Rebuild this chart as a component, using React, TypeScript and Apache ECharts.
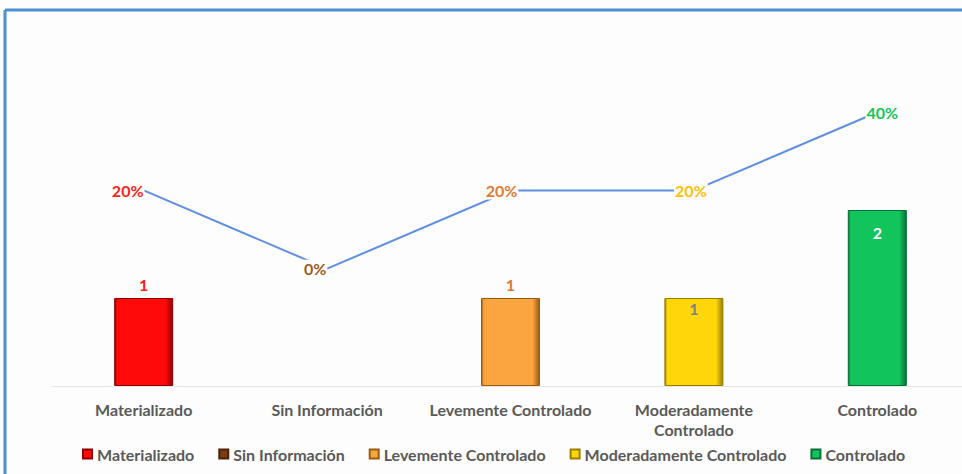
import React, { useEffect, useRef } from "react";
import * as echarts from "echarts";

const categories = ["Materializado", "Sin Información", "Levemente Controlado", "Moderadamente\nControlado", "Controlado"];
const legendNames = ["Materializado", "Sin Información", "Levemente Controlado", "Moderadamente Controlado", "Controlado"];
const counts = [1, 0, 1, 1, 2];
const percents = [20, 0, 20, 20, 40];
const barColors = ["#FF0A0A", "#7A3E12", "#FBA540", "#FFD60A", "#12C45C"];
const barEdgeColors = ["#8A0000", "#4A2308", "#9A5A10", "#9A7E00", "#06703A"];
const pctLabelColors = ["#FF2020", "#9C5A22", "#E07A2E", "#FFC000", "#12C45C"];
const barLabelColors = ["#FF2020", "#9C5A22", "#E07A2E", "#7F7F7F", "#FFFFFF"];
const barLabelPos = ["top", "top", "top", "insideTop", "insideTop"];
const barLabelDist = [6, 6, 6, 2, 14];
const pctLabelOffsetX = [-16, -12, -9, -3, 5];

const FONT = "Lato";

export default function App() {
  const ref = useRef<HTMLDivElement>(null);
  useEffect(() => {
    const chart = echarts.init(ref.current!, null, { renderer: "svg" });
    const barSeries = legendNames.map((name, i) => ({
      name,
      type: "bar",
      stack: "one",
      barWidth: 59,
      data: counts.map((v, j) => (j === i && v > 0 ? v : null)),
      itemStyle: {
        color: new echarts.graphic.LinearGradient(0, 0, 1, 0, [
          { offset: 0, color: barEdgeColors[i] },
          { offset: 0.04, color: barColors[i] },
          { offset: 0.88, color: barColors[i] },
          { offset: 1, color: barEdgeColors[i] },
        ]),
        borderColor: barEdgeColors[i],
        borderWidth: 1,
      },
      label: {
        show: true,
        position: barLabelPos[i],
        distance: barLabelDist[i],
        color: barLabelColors[i],
        fontFamily: FONT,
        fontWeight: "bold",
        fontSize: 16,
      },
    }));
    chart.setOption({
      animation: false,
      backgroundColor: "#fdfdfd",
      grid: { left: 52, width: 917, top: 34, height: 352 },
      legend: {
        data: legendNames.map((n) => ({ name: n, icon: "rect" })),
        bottom: 7,
        left: 77,
        itemWidth: 9,
        itemHeight: 9,
        itemGap: 24,
        textStyle: { color: "#595959", fontFamily: FONT, fontSize: 16, fontWeight: "bold" },
      },
      xAxis: {
        type: "category",
        data: categories,
        axisLine: { show: true, lineStyle: { color: "#e6e6e6", width: 1 } },
        axisTick: { show: false },
        axisLabel: {
          color: "#595959",
          fontFamily: FONT,
          fontSize: 16,
          fontWeight: "bold",
          margin: 13,
          lineHeight: 20,
          interval: 0,
        },
      },
      yAxis: [
        { type: "value", min: 0, max: 4, show: false, splitLine: { show: false } },
        { type: "value", min: -30, max: 60, show: false, splitLine: { show: false } },
      ],
      series: [
        ...barSeries,
        {
          name: "Porcentaje",
          type: "line",
          yAxisIndex: 1,
          z: 5,
          symbol: "circle",
          symbolSize: 1,
          itemStyle: { color: "transparent" },
          lineStyle: { color: "#5E8FE0", width: 2 },
          data: percents.map((v, i) => ({
            value: v,
            label: { color: pctLabelColors[i], offset: [pctLabelOffsetX[i], 0] },
          })),
          label: {
            show: true,
            position: "inside",
            formatter: (p: any) => `${p.value}%`,
            fontFamily: FONT,
            fontWeight: "bold",
            fontSize: 16,
            backgroundColor: "#fdfdfd",
            padding: [1, 1],
          },
        },
      ],
      graphic: [
        { type: "line", shape: { x1: 5, y1: 10, x2: 990, y2: 10 }, style: { stroke: "#4A90D2", lineWidth: 3 } },
        { type: "line", shape: { x1: 5, y1: 10, x2: 5, y2: 474 }, style: { stroke: "#4A90D2", lineWidth: 3 } },
      ],
    });
    return () => chart.dispose();
  }, []);
  return (
    <div style={{ position: "fixed", left: 0, top: 0, width: 962, height: 474, overflow: "hidden" }}>
      <div ref={ref} style={{ width: 990, height: 474 }} />
    </div>
  );
}
